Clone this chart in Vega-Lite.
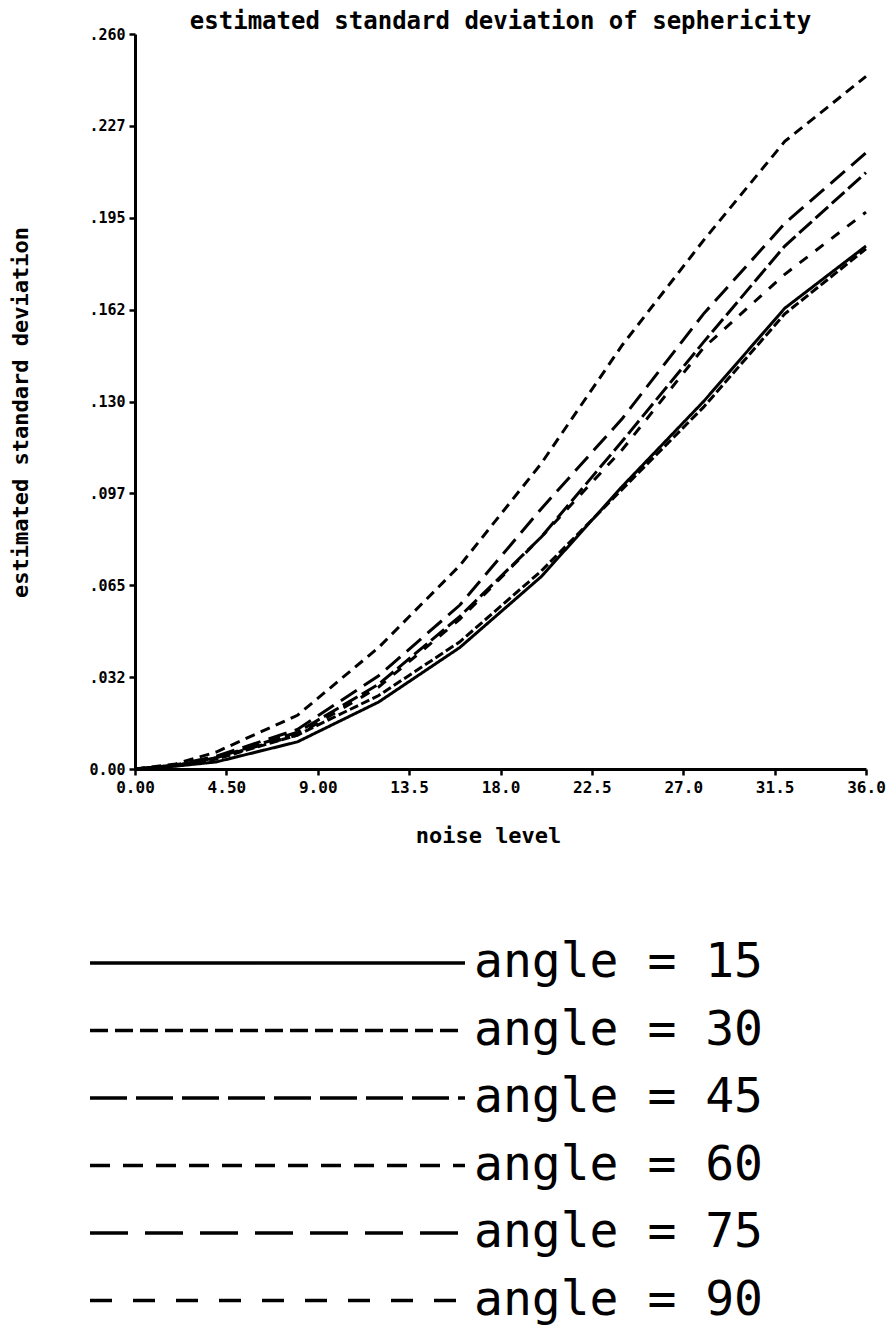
{
  "$schema": "https://vega.github.io/schema/vega-lite/v6.json",
  "width": 731,
  "height": 735,
  "autosize": {"type": "none"},
  "padding": {"left": 135, "top": 34, "right": 23, "bottom": 566},
  "background": "white",
  "title": {
    "text": "estimated standard deviation of sephericity",
    "font": "DejaVu Sans Mono",
    "fontSize": 24,
    "fontWeight": "bold",
    "color": "black",
    "anchor": "middle",
    "offset": -7
  },
  "data": {
    "values": [
      {"angle": "15", "noise": 0, "sd": 0},
      {"angle": "15", "noise": 2, "sd": 0.001},
      {"angle": "15", "noise": 4, "sd": 0.0025},
      {"angle": "15", "noise": 8, "sd": 0.0096},
      {"angle": "15", "noise": 12, "sd": 0.0237},
      {"angle": "15", "noise": 16, "sd": 0.043},
      {"angle": "15", "noise": 20, "sd": 0.068},
      {"angle": "15", "noise": 24, "sd": 0.1},
      {"angle": "15", "noise": 28, "sd": 0.13},
      {"angle": "15", "noise": 32, "sd": 0.163},
      {"angle": "15", "noise": 36, "sd": 0.185},
      {"angle": "30", "noise": 0, "sd": 0},
      {"angle": "30", "noise": 2, "sd": 0.0012},
      {"angle": "30", "noise": 4, "sd": 0.0035},
      {"angle": "30", "noise": 8, "sd": 0.012},
      {"angle": "30", "noise": 12, "sd": 0.026},
      {"angle": "30", "noise": 16, "sd": 0.045},
      {"angle": "30", "noise": 20, "sd": 0.07},
      {"angle": "30", "noise": 24, "sd": 0.099},
      {"angle": "30", "noise": 28, "sd": 0.128},
      {"angle": "30", "noise": 32, "sd": 0.161},
      {"angle": "30", "noise": 36, "sd": 0.184},
      {"angle": "45", "noise": 0, "sd": 0},
      {"angle": "45", "noise": 2, "sd": 0.0012},
      {"angle": "45", "noise": 4, "sd": 0.004},
      {"angle": "45", "noise": 8, "sd": 0.013},
      {"angle": "45", "noise": 12, "sd": 0.03},
      {"angle": "45", "noise": 16, "sd": 0.054},
      {"angle": "45", "noise": 20, "sd": 0.082},
      {"angle": "45", "noise": 24, "sd": 0.116},
      {"angle": "45", "noise": 28, "sd": 0.151},
      {"angle": "45", "noise": 32, "sd": 0.185},
      {"angle": "45", "noise": 36, "sd": 0.211},
      {"angle": "60", "noise": 0, "sd": 0},
      {"angle": "60", "noise": 2, "sd": 0.0018},
      {"angle": "60", "noise": 4, "sd": 0.006},
      {"angle": "60", "noise": 8, "sd": 0.019},
      {"angle": "60", "noise": 12, "sd": 0.043},
      {"angle": "60", "noise": 16, "sd": 0.072},
      {"angle": "60", "noise": 20, "sd": 0.108},
      {"angle": "60", "noise": 24, "sd": 0.15},
      {"angle": "60", "noise": 28, "sd": 0.187},
      {"angle": "60", "noise": 32, "sd": 0.222},
      {"angle": "60", "noise": 36, "sd": 0.245},
      {"angle": "75", "noise": 0, "sd": 0},
      {"angle": "75", "noise": 2, "sd": 0.0014},
      {"angle": "75", "noise": 4, "sd": 0.0045},
      {"angle": "75", "noise": 8, "sd": 0.014},
      {"angle": "75", "noise": 12, "sd": 0.033},
      {"angle": "75", "noise": 16, "sd": 0.058},
      {"angle": "75", "noise": 20, "sd": 0.092},
      {"angle": "75", "noise": 24, "sd": 0.124},
      {"angle": "75", "noise": 28, "sd": 0.161},
      {"angle": "75", "noise": 32, "sd": 0.193},
      {"angle": "75", "noise": 36, "sd": 0.218},
      {"angle": "90", "noise": 0, "sd": 0},
      {"angle": "90", "noise": 2, "sd": 0.0012},
      {"angle": "90", "noise": 4, "sd": 0.004},
      {"angle": "90", "noise": 8, "sd": 0.012},
      {"angle": "90", "noise": 12, "sd": 0.029},
      {"angle": "90", "noise": 16, "sd": 0.053},
      {"angle": "90", "noise": 20, "sd": 0.082},
      {"angle": "90", "noise": 24, "sd": 0.113},
      {"angle": "90", "noise": 28, "sd": 0.149},
      {"angle": "90", "noise": 32, "sd": 0.175},
      {"angle": "90", "noise": 36, "sd": 0.197}
    ]
  },
  "encoding": {
    "x": {
      "field": "noise",
      "type": "quantitative",
      "scale": {"domain": [0, 36], "nice": false, "zero": true},
      "axis": {
        "values": [0, 4.5, 9, 13.5, 18, 22.5, 27, 31.5, 36],
        "labelExpr": "datum.value < 10 ? format(datum.value, '.2f') : format(datum.value, '.1f')",
        "grid": false,
        "domainColor": "black",
        "domainWidth": 3,
        "tickColor": "black",
        "tickWidth": 2.5,
        "tickSize": 6,
        "labelFont": "DejaVu Sans Mono",
        "labelFontSize": 16,
        "labelFontWeight": "bold",
        "labelColor": "black",
        "labelPadding": 4,
        "labelFlush": false,
        "labelOverlap": false,
        "title": "noise level",
        "titleFont": "DejaVu Sans Mono",
        "titleFontSize": 22,
        "titleFontWeight": "bold",
        "titleColor": "black",
        "titleX": 353,
        "titleY": 66,
        "titleAlign": "center",
        "titleBaseline": "middle"
      }
    },
    "y": {
      "field": "sd",
      "type": "quantitative",
      "scale": {"domain": [0, 0.26], "nice": false, "zero": true},
      "axis": {
        "values": [0, 0.0325, 0.065, 0.0975, 0.13, 0.1625, 0.195, 0.2275, 0.26],
        "labelExpr": "datum.value == 0 ? '0.00' : replace(format(round(datum.value * 1000 - 0.4) / 1000, '.3f'), '0.', '.')",
        "grid": false,
        "domainColor": "black",
        "domainWidth": 3,
        "tickColor": "black",
        "tickWidth": 2.5,
        "tickSize": 6,
        "labelFont": "DejaVu Sans Mono",
        "labelFontSize": 15,
        "labelFontWeight": "bold",
        "labelColor": "black",
        "labelPadding": 4,
        "labelFlush": false,
        "labelOverlap": false,
        "title": "estimated standard deviation",
        "titleFont": "DejaVu Sans Mono",
        "titleFontSize": 22,
        "titleFontWeight": "bold",
        "titleColor": "black",
        "titleX": -115,
        "titleY": 378,
        "titleAngle": -90,
        "titleAlign": "center",
        "titleBaseline": "middle"
      }
    }
  },
  "layer": [
    {
      "mark": {"type": "line", "strokeWidth": 3, "color": "black"},
      "encoding": {
        "strokeDash": {
          "field": "angle",
          "type": "nominal",
          "scale": {
            "domain": ["15", "30", "45", "60", "75", "90"],
            "range": [[1, 0], [9, 3.5], [17, 5], [10, 6.5], [19, 8.5], [10, 10]]
          },
          "legend": null
        }
      }
    },
    {
      "mark": {"type": "line", "strokeWidth": 3, "color": "black", "opacity": 0},
      "encoding": {
        "strokeDash": {
          "field": "angle",
          "type": "nominal",
          "scale": {
            "domain": ["15", "30", "45", "60", "75", "90"],
            "range": [[1, 0], [18, 7], [37, 9], [20, 13], [38, 17], [22, 21]]
          },
          "legend": {
            "orient": "none",
            "legendX": -47,
            "legendY": 901,
            "title": null,
            "symbolType": "stroke",
            "symbolSize": 140625,
            "symbolStrokeWidth": 3.5,
            "symbolStrokeColor": "black",
            "symbolOpacity": 1,
            "clipHeight": 56,
            "rowPadding": 11.5,
            "labelFont": "DejaVu Sans Mono",
            "labelFontSize": 48,
            "labelColor": "black",
            "labelOffset": 7,
            "labelLimit": 0,
            "labelExpr": "'angle = ' + datum.label"
          }
        }
      }
    }
  ],
  "resolve": {"scale": {"strokeDash": "independent"}, "legend": {"strokeDash": "independent"}},
  "config": {"view": {"stroke": null}}
}
